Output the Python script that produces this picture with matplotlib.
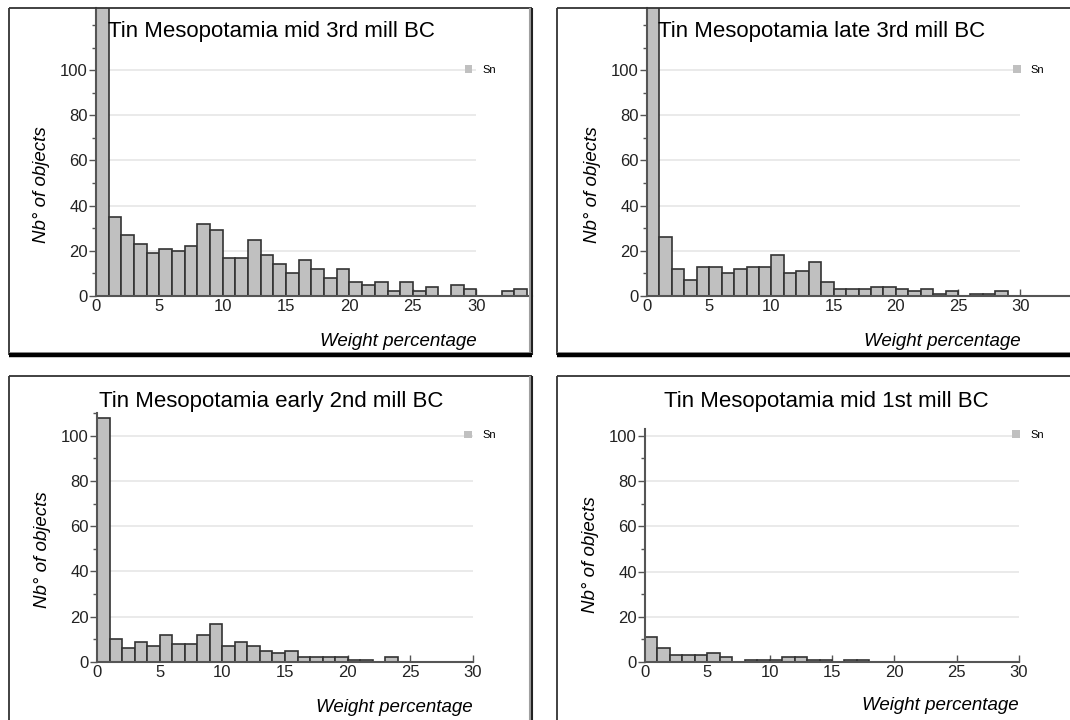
"""
Tin content histograms, Mesopotamia, four periods (2x2 panels).
"""
import matplotlib
matplotlib.use('Agg')
import matplotlib.pyplot as plt
from matplotlib.patches import Patch
from matplotlib.lines import Line2D
from matplotlib.ticker import MultipleLocator

plt.rcParams['font.family'] = ['Liberation Sans', 'DejaVu Sans']

# counts per 1 % bin, starting at 0-1 %
mid3rd = [160, 35, 27, 23, 19, 21, 20, 22, 32, 29, 17, 17, 25, 18, 14, 10, 16, 12,
          8, 12, 6, 5, 6, 2, 6, 2, 4, 0, 5, 3, 0, 0, 2, 3]
late3rd = [150, 26, 12, 7, 13, 13, 10, 12, 13, 13, 18, 10, 11, 15, 6, 3, 3, 3,
           4, 4, 3, 2, 3, 1, 2, 0, 1, 1, 2, 0, 0, 0, 0, 0]
early2nd = [108, 10, 6, 9, 7, 12, 8, 8, 12, 17, 7, 9, 7, 5, 4, 5, 2, 2,
            2, 2, 1, 1, 0, 2, 0, 0, 0, 0, 0, 0]
mid1st = [11, 6, 3, 3, 3, 4, 2, 0, 1, 1, 1, 2, 2, 1, 1, 0, 1, 1,
          0, 0, 0, 0, 0, 0, 0, 0, 0, 0, 0, 0]

titles = ['Tin Mesopotamia mid 3rd mill BC', 'Tin Mesopotamia late 3rd mill BC',
          'Tin Mesopotamia early 2nd mill BC', 'Tin Mesopotamia mid 1st mill BC']
yticks = [0, 20, 40, 60, 80, 100]
xticks = [0, 5, 10, 15, 20, 25, 30]

W, H = 1070, 720
BAR = '#c0c0c0'
EDGE = '#333333'


def fx(px):
    return px / W


def fy(py):
    return 1 - py / H


fig = plt.figure(figsize=(W / 100, H / 100), dpi=100)
fig.patch.set_facecolor('white')


def frame(x0, y0, x1, y1, thick_bottom):
    # panel box drawn in figure pixels
    kw = dict(transform=fig.transFigure, solid_capstyle='butt')
    fig.add_artist(Line2D([fx(x0), fx(x1)], [fy(y0), fy(y0)], color='#333333', lw=1.3, **kw))
    fig.add_artist(Line2D([fx(x0), fx(x0)], [fy(y0), fy(y1)], color='#333333', lw=1.3, **kw))
    fig.add_artist(Line2D([fx(x1 - 2), fx(x1 - 2)], [fy(y0), fy(y1)], color='#a0a0a0', lw=1.5, **kw))
    fig.add_artist(Line2D([fx(x1), fx(x1)], [fy(y0), fy(y1)], color='#222222', lw=1.5, **kw))
    if thick_bottom:
        fig.add_artist(Line2D([fx(x0), fx(x1)], [fy(y1 - 2), fy(y1 - 2)], color='#a0a0a0', lw=1.2, **kw))
        fig.add_artist(Line2D([fx(x0), fx(x1)], [fy(y1), fy(y1)], color='black', lw=3.2, **kw))


frame(9, 8, 532, 355, True)
frame(557, 8, 1075, 355, True)
frame(9, 376, 532, 725, False)
frame(557, 376, 1075, 725, False)

# (left px, right px, bottom px, top px, xmax, ymax, legend anchor, ylabel y frac)
panels = [
    (96, 532, 296, 8, 34.4, 127.5, (0.835, 0.785), 0.385),
    (647, 1070, 296, 8, 34.0, 127.5, (0.855, 0.785), 0.385),
    (97, 473, 662, 413, 30, 110, (0.965, 0.91), 0.45),
    (645, 1019, 662, 429, 30, 103, (0.97, 0.975), 0.46),
]
data = [mid3rd, late3rd, early2nd, mid1st]

for i, (l, r, b, t, xmax, ymax, leg, ylab) in enumerate(panels):
    ax = fig.add_axes([fx(l), fy(b), (r - l) / W, (b - t) / H])
    counts = data[i]
    ax.bar(range(len(counts)), counts, width=1, align='edge',
           color=BAR, edgecolor=EDGE, linewidth=1.2, zorder=3)
    ax.set_xlim(0, xmax)
    ax.set_ylim(0, ymax)
    ax.hlines(yticks[1:], 0, 30, colors='#e6e6e6', linewidth=1.2, zorder=1)
    for s in ['top', 'right']:
        ax.spines[s].set_visible(False)
    for s in ['left', 'bottom']:
        ax.spines[s].set_color('#555555')
        ax.spines[s].set_linewidth(1.5)
        ax.spines[s].set_zorder(4)
    ax.set_xticks(xticks)
    ax.set_yticks(yticks)
    ax.yaxis.set_minor_locator(MultipleLocator(10))
    ax.tick_params(axis='x', direction='in', length=5, width=1, colors='#555555',
                   labelcolor='#222222', labelsize=12, pad=2)
    ax.tick_params(axis='y', which='major', direction='out', length=5, width=1,
                   colors='#555555', labelcolor='#222222', labelsize=12, pad=1)
    ax.tick_params(axis='y', which='minor', direction='out', length=3, width=1, colors='#555555')
    ax.set_facecolor('none')
    ax.set_ylabel('Nb° of objects', fontsize=13.5, style='italic')
    ax.yaxis.set_label_coords(-46 / (r - l), ylab)
    ax.set_xlabel('Weight percentage', fontsize=13.5, style='italic')
    ax.xaxis.set_label_coords(30 / xmax, -0.13 if i < 2 else -0.15)
    ax.xaxis.label.set_horizontalalignment('right')
    ax.legend(handles=[Patch(facecolor=BAR, edgecolor='none', label='Sn')],
              loc='center left', bbox_to_anchor=leg, frameon=False, fontsize=8,
              handlelength=0.7, handleheight=0.7, handletextpad=0.9, borderaxespad=0)

# titles in figure pixels
fig.text(fx(108), fy(31), titles[0], fontsize=16, ha='left', va='center')
fig.text(fx(658), fy(31), titles[1], fontsize=16, ha='left', va='center')
fig.text(fx(271), fy(402), titles[2], fontsize=16, ha='center', va='center')
fig.text(fx(826), fy(402), titles[3], fontsize=16, ha='center', va='center')

fig.savefig('out.png', dpi=100)
